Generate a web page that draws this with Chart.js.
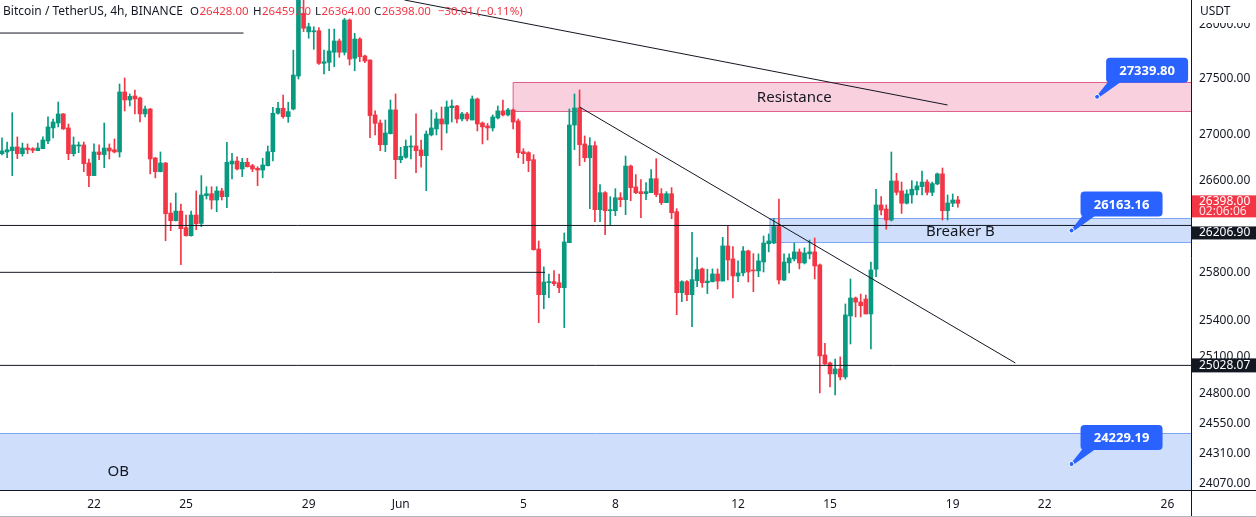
<!DOCTYPE html>
<html>
<head>
<meta charset="utf-8">
<title>BTCUSDT 4h</title>
<script src="https://cdn.jsdelivr.net/npm/chart.js@4.4.1/dist/chart.umd.min.js"></script>
<style>
    html, body { margin: 0; padding: 0; background: #fff; }
    canvas { display: block; }
</style>
</head>
<body>
<canvas id="btcChart" width="1256" height="517"></canvas>
<script>
// 4h candles, first bar 19 May 2023 00:00 UTC
const open = [
    26833,26848,26859,26892,26833,26883,26877,26859,26877,26945,
    27061,27105,27186,27061,26833,26901,26910,26751,26640,26848,
    26825,26883,26868,26848,27383,27311,27347,27329,27186,27230,
    26795,26675,26751,26314,26248,26331,26188,26119,26297,26225,
    26465,26482,26427,26506,26456,26742,26768,26698,26757,26727,
    26704,26689,26727,26850,27192,27237,27162,27230,27527,28101,
    27930,27930,27940,27642,27651,27743,27846,27743,28039,27688,
    27864,27709,27672,27177,27105,26912,27010,27222,26780,26801,
    26892,26901,26866,26815,26999,27052,27141,27096,27242,27257,
    27141,27186,27132,27320,27105,27079,27061,27150,27213,27177,
    27222,27123,26850,26842,26780,26005,25617,25718,25727,25718,
    25676,26059,27087,27239,26919,26797,26904,26343,26491,26334,
    26334,26447,26430,26724,26541,26500,26482,26491,26613,26482,
    26404,26482,26326,25634,25727,25617,25735,25835,25718,25727,
    25792,25732,26031,25920,25775,25801,25988,25826,25818,25894,
    26050,26056,26197,25741,25886,25920,25980,25886,25963,25980,
    25869,25114,25048,24958,24999,24933,25438,25589,25555,25580,
    25455,25832,26384,26349,26254,26593,26506,26399,26471,26515,
    26544,26584,26494,26567,26655,26334,26399,26428
];
const high = [
    26972,26936,27197,26981,26927,26919,26886,26927,26981,27159,
    27141,27293,27190,27096,26981,26936,26936,26786,26919,26910,
    27105,26919,26963,27455,27509,27365,27401,27338,27257,27235,
    26800,26848,26755,26401,26488,26392,26297,26331,26506,26640,
    26543,26543,26543,26529,26934,26836,26806,26792,26792,26739,
    26718,26792,26901,27246,27290,27356,27290,27762,28300,28300,
    28009,27977,27968,27764,27956,27956,27864,28055,28048,27916,
    27876,27718,27675,27213,27132,27132,27311,27365,26889,26954,
    26990,27186,26954,27034,27222,27197,27248,27302,27311,27262,
    27200,27200,27347,27329,27114,27101,27177,27257,27311,27237,
    27230,27141,26877,26850,26824,26073,25852,25792,25820,25792,
    26142,27230,27365,27401,26990,26975,26939,26561,26500,26456,
    26526,26491,26812,26733,26649,26605,26579,26692,26789,26526,
    26500,26535,26352,25735,25735,26148,25931,25843,25832,25835,
    25835,26105,26202,26025,25903,26025,25995,25965,25963,26116,
    26133,26268,26436,25963,25963,26056,26005,26014,26082,26099,
    25877,25211,25056,25081,25098,25539,25750,25597,25622,25614,
    25892,26521,26456,26384,26848,26660,26584,26515,26596,26587,
    26680,26602,26584,26663,26707,26471,26480,26459
];
const low = [
    26821,26797,26640,26789,26812,26833,26842,26859,26877,26921,
    26972,27070,27048,26780,26812,26842,26675,26543,26640,26780,
    26710,26786,26840,26803,27213,27257,27186,27114,27159,26655,
    26620,26672,26076,26162,26245,25871,26115,26115,26170,26196,
    26436,26349,26326,26427,26360,26611,26689,26631,26715,26675,
    26552,26622,26724,26768,27183,27147,27111,27222,27500,27932,
    27871,27770,27633,27545,27575,27611,27697,27718,27627,27575,
    27657,27648,26975,26999,26859,26851,27007,26613,26753,26792,
    26786,26666,26713,26508,26990,26999,26866,27016,27114,27105,
    27123,27123,27132,27034,26919,26954,27034,27141,27168,27168,
    27052,26797,26745,26675,25995,25382,25499,25591,25693,25634,
    25341,26059,26868,26727,26762,26352,26239,26239,26128,26213,
    26291,26369,26300,26421,26482,26274,26430,26491,26456,26387,
    26404,26265,25449,25558,25566,25349,25685,25679,25626,25724,
    25665,25732,25741,25589,25727,25775,25724,25642,25769,25809,
    25980,26050,25707,25735,25801,25903,25835,25877,25920,25750,
    24802,25035,24851,24786,24908,24916,25205,25430,25430,25455,
    25164,25769,26297,26174,26245,26471,26311,26392,26399,26471,
    26471,26471,26465,26560,26254,26254,26369,26364
];
const close = [
    26857,26868,26892,26833,26883,26868,26863,26883,26954,27070,
    27114,27186,27052,26833,26910,26910,26745,26640,26848,26825,
    26883,26857,26848,27383,27311,27344,27320,27186,27230,26786,
    26675,26751,26308,26248,26331,26179,26119,26297,26222,26471,
    26482,26427,26506,26456,26757,26768,26698,26757,26718,26698,
    26689,26733,26850,27192,27237,27162,27207,27536,28240,27963,
    27977,27940,27642,27657,27755,27846,27743,28039,27681,27864,
    27703,27663,27171,27102,26912,27016,27222,26780,26810,26898,
    26901,26859,26815,27007,27061,27141,27096,27248,27257,27141,
    27186,27141,27320,27096,27070,27061,27159,27213,27177,27222,
    27114,26842,26833,26771,25999,25617,25724,25727,25710,25676,
    26065,27087,27239,26912,26797,26904,26343,26491,26334,26343,
    26447,26430,26724,26535,26491,26482,26500,26613,26474,26404,
    26482,26317,25634,25727,25617,25744,25829,25718,25732,25792,
    25732,26031,25911,25775,25801,25988,25809,25818,25903,26056,
    26073,26197,25741,25894,25928,25980,25886,25971,25980,25860,
    25106,25040,24958,24999,24933,25447,25589,25555,25524,25455,
    25826,26384,26340,26254,26593,26494,26399,26480,26521,26550,
    26584,26494,26570,26655,26334,26401,26427,26398
];

const HOUR = 3600 * 1000;
const DAY = 24 * HOUR;
const firstBar = Date.UTC(2023, 4, 19);
const times = open.map((_, i) => firstBar + i * 4 * HOUR);
const at = (m, d, h) => Date.UTC(2023, m - 1, d, h || 0);

const xTickDates = [at(5,22), at(5,25), at(5,29), at(6,1), at(6,5), at(6,8), at(6,12), at(6,15), at(6,19), at(6,22), at(6,26)];
const xTickLabels = ['22', '25', '29', 'Jun', '5', '8', '12', '15', '19', '22', '26'];
const yTicks = [24070, 24310, 24550, 24800, 25100, 25400, 25800, 26600, 27000, 27500, 28000];

const xMin = at(5,22) - 3.065 * DAY;
const xMax = at(5,22) + 35.77 * DAY;
const yMin = 24023;
const yMax = 28224;

// legend text
const symbolTitle = 'Bitcoin / TetherUS, 4h, BINANCE';
const changeText = '\u221230.01 (\u22120.11%)';
const countdown = '02:06:06';

// user drawings
const topRay = [{ x: xMin, y: 27919 }, { x: at(5,26,21), y: 27919 }];
const breakerLine = [{ x: xMin, y: 26206.90 }, { x: xMax, y: 26206.90 }];
const shelfLine = [{ x: xMin, y: 25806 }, { x: at(6,5,17), y: 25806 }];
const supportLine = [{ x: xMin, y: 25028.07 }, { x: xMax, y: 25028.07 }];
const trendUpper = [{ x: at(6,1,3), y: 28224 }, { x: at(6,18,20), y: 27266 }];
const trendLower = [{ x: at(6,6,20), y: 27248 }, { x: at(6,21,1), y: 25048 }];

const resistanceZone = { from: at(6,4,16), top: 27470, bottom: 27215, label: 'Resistance', labelAt: at(6,13,20) };
const breakerZone = { from: at(6,13,1), top: 26268, bottom: 26062, label: 'Breaker B', labelAt: at(6,19,6) };
const obZone = { from: xMin, top: 24476, bottom: yMin, label: 'OB', labelAt: at(5,22,19), labelPrice: 24170 };

const callouts = [
    { x: at(6,23,17), price: 27339.80 },
    { x: at(6,22,21), price: 26163.16 },
    { x: at(6,22,21), price: 24229.19 },
];

const UP = '#089981';
const DOWN = '#f23645';
const INK = '#131722';
const BLUE = '#2962ff';
const FONT = "'Noto Sans', sans-serif";

const candleColor = ctx => close[ctx.dataIndex] >= open[ctx.dataIndex] ? UP : DOWN;

function lineSet(points) {
    return { type: 'line', data: points, borderColor: INK, borderWidth: 1, pointRadius: 0, order: 0 };
}

function fillZone(ctx, area, x, y, z, fill, stroke, drawLeft) {
    const x0 = Math.max(area.left, x.getPixelForValue(z.from));
    const y0 = Math.round(y.getPixelForValue(z.top)) + 0.5;
    const y1 = Math.min(area.bottom, Math.round(y.getPixelForValue(z.bottom)) + 0.5);
    ctx.fillStyle = fill;
    ctx.fillRect(x0, y0, area.right - x0, y1 - y0);
    ctx.strokeStyle = stroke;
    ctx.lineWidth = 1;
    ctx.beginPath();
    ctx.moveTo(area.right, y0);
    ctx.lineTo(x0, y0);
    if (drawLeft) {
        ctx.lineTo(x0, y1);
        ctx.lineTo(area.right, y1);
    }
    ctx.stroke();
}

const zonesPlugin = {
    id: 'zones',
    beforeDatasetsDraw(chart) {
        const { ctx, chartArea: a, scales: { x, y } } = chart;
        ctx.save();
        ctx.beginPath();
        ctx.rect(a.left, a.top, a.width, a.height);
        ctx.clip();
        fillZone(ctx, a, x, y, resistanceZone, '#f9d1de', '#e0608c', true);
        fillZone(ctx, a, x, y, breakerZone, '#cfdffb', '#7ea6f2', true);
        fillZone(ctx, a, x, y, obZone, '#cfdffb', '#7ea6f2', false);
        ctx.restore();
    },
    afterDatasetsDraw(chart) {
        const { ctx, scales: { x, y } } = chart;
        ctx.save();
        ctx.fillStyle = INK;
        ctx.textAlign = 'center';
        ctx.textBaseline = 'middle';
        ctx.font = '15px ' + FONT;
        [resistanceZone, breakerZone].forEach(z => {
            const yc = (y.getPixelForValue(z.top) + y.getPixelForValue(z.bottom)) / 2;
            ctx.fillText(z.label, x.getPixelForValue(z.labelAt), yc + 1);
        });
        ctx.fillText(obZone.label, x.getPixelForValue(obZone.labelAt), y.getPixelForValue(obZone.labelPrice));
        ctx.restore();
    }
};

function axisTag(ctx, left, top, h, bg, rows) {
    ctx.fillStyle = bg;
    ctx.fillRect(left, top, 64, h);
    ctx.textAlign = 'left';
    ctx.textBaseline = 'middle';
    ctx.font = '12px ' + FONT;
    rows.forEach(r => {
        ctx.fillStyle = r.color;
        ctx.fillText(r.text, left + 7, top + r.dy);
    });
}

function drawCallout(ctx, px, py, text) {
    const bw = 82, bh = 25;
    const bx = px + 9, by = py - 14 - bh;
    ctx.fillStyle = BLUE;
    ctx.beginPath();
    ctx.moveTo(px - 1, py);
    ctx.lineTo(bx + 2, by + bh - 1);
    ctx.lineTo(bx + 15, by + bh - 1);
    ctx.lineTo(px + 1.5, py + 1);
    ctx.closePath();
    ctx.fill();
    ctx.beginPath();
    ctx.roundRect(bx, by, bw, bh, 4);
    ctx.fill();
    ctx.fillStyle = '#fff';
    ctx.font = 'bold 13px ' + FONT;
    ctx.textAlign = 'center';
    ctx.textBaseline = 'middle';
    ctx.fillText(text, bx + bw / 2, by + bh / 2 + 1);
    ctx.beginPath();
    ctx.arc(px, py, 2.5, 0, Math.PI * 2);
    ctx.fillStyle = BLUE;
    ctx.fill();
    ctx.strokeStyle = '#fff';
    ctx.lineWidth = 1;
    ctx.stroke();
}

const overlayPlugin = {
    id: 'overlay',
    afterDraw(chart) {
        const { ctx, chartArea: a, scales: { x, y }, width, height } = chart;
        ctx.save();

        // the top and bottom axis labels are half hidden in the reference
        ctx.fillStyle = '#fff';
        ctx.fillRect(a.right + 1, 0, width - a.right, 23);
        ctx.fillRect(a.right + 1, a.bottom, width - a.right, height - a.bottom);

        ctx.strokeStyle = INK;
        ctx.lineWidth = 1;
        ctx.beginPath();
        ctx.moveTo(0, a.bottom + 0.5);
        ctx.lineTo(width, a.bottom + 0.5);
        ctx.moveTo(a.right + 0.5, 0);
        ctx.lineTo(a.right + 0.5, height);
        ctx.stroke();
        ctx.strokeStyle = '#b2b5be';
        ctx.beginPath();
        ctx.moveTo(0, height - 0.5);
        ctx.lineTo(width, height - 0.5);
        ctx.stroke();

        ctx.fillStyle = INK;
        ctx.font = '12px ' + FONT;
        ctx.textAlign = 'left';
        ctx.textBaseline = 'middle';
        ctx.fillText('USDT', a.right + 9, 12);

        // price tags on the axis
        const last = close[close.length - 1];
        const pLast = y.getPixelForValue(last);
        axisTag(ctx, a.right + 1, pLast - 8, 22, DOWN, [
            { text: last.toFixed(2), dy: 6.5, color: '#fff' },
            { text: countdown, dy: 16.5, color: '#fde2e5' },
        ]);
        const pB = y.getPixelForValue(breakerLine[0].y);
        axisTag(ctx, a.right + 1, pB + 1, 13, INK, [{ text: breakerLine[0].y.toFixed(2), dy: 6.5, color: '#fff' }]);
        const pS = y.getPixelForValue(supportLine[0].y);
        axisTag(ctx, a.right + 1, pS - 7, 14, INK, [{ text: supportLine[0].y.toFixed(2), dy: 7, color: '#fff' }]);

        // price callouts
        callouts.forEach(c => drawCallout(ctx, x.getPixelForValue(c.x), y.getPixelForValue(c.price), c.price.toFixed(2)));

        // legend line: title, then O/H/L/C of the last bar
        ctx.textAlign = 'left';
        ctx.textBaseline = 'middle';
        ctx.font = '12px ' + FONT;
        ctx.fillStyle = INK;
        ctx.fillText(symbolTitle, 3, 12);
        const n = close.length - 1;
        const ohlc = [['O', open[n], 190], ['H', high[n], 253], ['L', low[n], 315], ['C', last, 374]];
        ctx.font = '11.5px ' + FONT;
        let end = 0;
        ohlc.forEach(([k, v, px]) => {
            ctx.fillStyle = INK;
            ctx.fillText(k, px, 12);
            const vx = px + ctx.measureText(k).width + 0.5;
            ctx.fillStyle = DOWN;
            ctx.fillText(v.toFixed(2), vx, 12);
            end = vx + ctx.measureText(v.toFixed(2)).width;
        });
        ctx.fillText(changeText, end + 7, 12);
        ctx.restore();
    }
};

new Chart(document.getElementById('btcChart'), {
    type: 'bar',
    data: {
        datasets: [
            lineSet(topRay),
            lineSet(breakerLine),
            lineSet(shelfLine),
            lineSet(supportLine),
            lineSet(trendUpper),
            lineSet(trendLower),
            {
                label: 'wick',
                data: times.map((t, i) => ({ x: t, y: [low[i], high[i]] })),
                backgroundColor: candleColor,
                barThickness: 1,
                grouped: false,
                order: 3,
            },
            {
                label: 'body',
                data: times.map((t, i) => ({ x: t, y: [open[i], close[i]] })),
                backgroundColor: candleColor,
                barThickness: 4,
                minBarLength: 1,
                grouped: false,
                order: 2,
            },
        ]
    },
    options: {
        responsive: false,
        animation: false,
        devicePixelRatio: 1,
        layout: { padding: 0 },
        plugins: { legend: { display: false }, tooltip: { enabled: false } },
        scales: {
            x: {
                type: 'linear',
                min: xMin,
                max: xMax,
                offset: false,
                grid: { display: false, drawTicks: false },
                border: { display: false },
                afterBuildTicks: s => { s.ticks = xTickDates.map(v => ({ value: v })); },
                afterFit: s => { s.height = 27; s.paddingLeft = 0; s.paddingRight = 0; },
                ticks: {
                    autoSkip: false,
                    maxRotation: 0,
                    padding: 7,
                    color: INK,
                    font: { size: 12, family: FONT },
                    callback: (v, i) => xTickLabels[i],
                }
            },
            y: {
                type: 'logarithmic',
                position: 'right',
                min: yMin,
                max: yMax,
                grid: { display: false, drawTicks: false },
                border: { display: false },
                afterBuildTicks: s => { s.ticks = yTicks.map(v => ({ value: v })); },
                afterFit: s => { s.width = 65; s.paddingTop = 0; s.paddingBottom = 0; },
                ticks: {
                    padding: 8,
                    color: INK,
                    font: { size: 12, family: FONT },
                    callback: v => Number(v).toFixed(2),
                }
            }
        }
    },
    plugins: [zonesPlugin, overlayPlugin]
});
</script>
</body>
</html>
